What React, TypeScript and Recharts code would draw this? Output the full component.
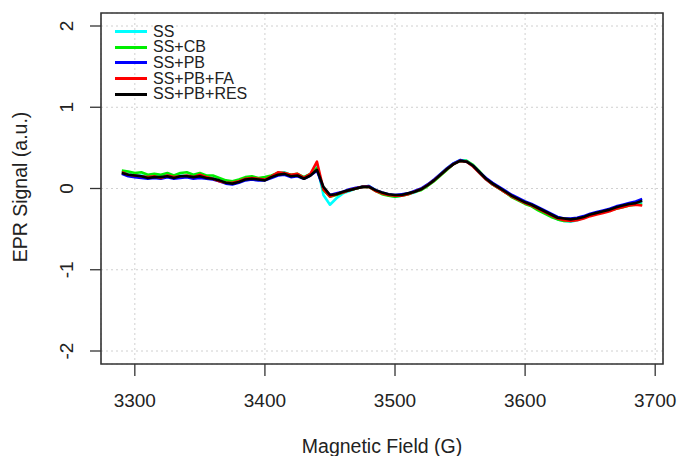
import React from "react";
import {
  LineChart,
  Line,
  XAxis,
  YAxis,
  CartesianGrid,
  ReferenceArea,
} from "recharts";

const FONT = "'Liberation Sans', Arial, Helvetica, sans-serif";
const AXIS = "#333";

// magnetic field sweep (G)
const FIELD = [
  3290, 3295, 3300, 3305, 3310, 3315, 3320, 3325, 3330, 3335,
  3340, 3345, 3350, 3355, 3360, 3365, 3370, 3375, 3380, 3385,
  3390, 3395, 3400, 3405, 3410, 3415, 3420, 3425, 3430, 3435,
  3440, 3445, 3450, 3455, 3460, 3465, 3470, 3475, 3480, 3485,
  3490, 3495, 3500, 3505, 3510, 3515, 3520, 3525, 3530, 3535,
  3540, 3545, 3550, 3555, 3560, 3565, 3570, 3575, 3580, 3585,
  3590, 3595, 3600, 3605, 3610, 3615, 3620, 3625, 3630, 3635,
  3640, 3645, 3650, 3655, 3660, 3665, 3670, 3675, 3680, 3685,
  3690,
];

const SS = [
  0.21, 0.18, 0.17, 0.16, 0.15, 0.15, 0.16, 0.16, 0.14, 0.16,
  0.16, 0.15, 0.15, 0.14, 0.13, 0.1, 0.08, 0.07, 0.09, 0.12,
  0.13, 0.12, 0.11, 0.15, 0.19, 0.2, 0.16, 0.17, 0.14, 0.18,
  0.3, -0.08, -0.2, -0.12, -0.06, -0.03, 0.0, 0.02, 0.03, -0.02,
  -0.06, -0.08, -0.1, -0.09, -0.07, -0.05, -0.01, 0.04, 0.1, 0.18,
  0.25, 0.31, 0.35, 0.34, 0.28, 0.19, 0.11, 0.05, 0.0, -0.05,
  -0.1, -0.14, -0.18, -0.21, -0.26, -0.3, -0.34, -0.38, -0.4, -0.41,
  -0.39, -0.36, -0.33, -0.31, -0.29, -0.27, -0.24, -0.22, -0.2, -0.19,
  -0.17,
];

const SS_CB = [
  0.22, 0.21, 0.19, 0.2, 0.17, 0.18, 0.17, 0.19, 0.16, 0.19,
  0.2, 0.17, 0.19, 0.16, 0.16, 0.13, 0.1, 0.09, 0.11, 0.14,
  0.15, 0.13, 0.14, 0.16, 0.19, 0.19, 0.17, 0.18, 0.14, 0.18,
  0.25, -0.02, -0.1, -0.08, -0.05, -0.02, 0.0, 0.02, 0.02, -0.03,
  -0.07, -0.09, -0.1, -0.09, -0.07, -0.04, -0.02, 0.03, 0.09, 0.16,
  0.23, 0.3, 0.34, 0.34, 0.29, 0.21, 0.12, 0.05, 0.0, -0.05,
  -0.11, -0.15, -0.19, -0.22, -0.27, -0.31, -0.35, -0.38, -0.4, -0.4,
  -0.38, -0.36, -0.33, -0.31, -0.29, -0.27, -0.25, -0.23, -0.21, -0.2,
  -0.2,
];

const SS_PB = [
  0.18, 0.15, 0.14, 0.13, 0.12, 0.13, 0.12, 0.14, 0.12, 0.13,
  0.14, 0.12, 0.13, 0.12, 0.11, 0.09, 0.06, 0.05, 0.07, 0.1,
  0.11, 0.1, 0.1, 0.13, 0.16, 0.17, 0.14, 0.15, 0.12, 0.16,
  0.22, 0.0, -0.08, -0.06, -0.04, -0.01, 0.01, 0.02, 0.03, -0.02,
  -0.05, -0.07, -0.08, -0.07, -0.06, -0.03, 0.0, 0.05, 0.11, 0.18,
  0.25, 0.31, 0.35, 0.33, 0.28, 0.2, 0.13, 0.07, 0.02, -0.03,
  -0.08, -0.12, -0.16, -0.19, -0.23, -0.27, -0.31, -0.35, -0.37, -0.37,
  -0.36, -0.34, -0.31, -0.29, -0.27, -0.25, -0.22, -0.2, -0.18, -0.16,
  -0.13,
];

const SS_PB_FA = [
  0.2, 0.17, 0.16, 0.15, 0.14, 0.15, 0.13, 0.16, 0.14, 0.15,
  0.16, 0.14, 0.17, 0.14, 0.12, 0.09, 0.07, 0.07, 0.09, 0.12,
  0.13, 0.12, 0.11, 0.15, 0.2, 0.19, 0.17, 0.18, 0.13, 0.18,
  0.33, -0.01, -0.1, -0.07, -0.05, -0.02, 0.0, 0.02, 0.02, -0.03,
  -0.06, -0.08, -0.09, -0.09, -0.07, -0.04, -0.01, 0.04, 0.1, 0.17,
  0.24, 0.3, 0.34, 0.33, 0.27, 0.19, 0.11, 0.05, 0.0, -0.05,
  -0.1, -0.14, -0.18, -0.21, -0.25, -0.29, -0.33, -0.37, -0.39, -0.4,
  -0.39, -0.37, -0.34, -0.32, -0.3, -0.28, -0.25, -0.23, -0.21, -0.2,
  -0.21,
];

const SS_PB_RES = [
  0.19, 0.17, 0.16, 0.15, 0.13, 0.14, 0.14, 0.15, 0.13, 0.15,
  0.15, 0.14, 0.15, 0.13, 0.12, 0.1, 0.07, 0.06, 0.08, 0.11,
  0.12, 0.11, 0.1, 0.14, 0.17, 0.18, 0.15, 0.16, 0.12, 0.16,
  0.23, 0.02, -0.08, -0.07, -0.04, -0.02, 0.0, 0.02, 0.02, -0.02,
  -0.05, -0.07, -0.08, -0.08, -0.06, -0.04, -0.01, 0.04, 0.1, 0.17,
  0.24, 0.3, 0.34, 0.33, 0.28, 0.2, 0.12, 0.06, 0.01, -0.04,
  -0.09, -0.13, -0.17, -0.2, -0.24, -0.28, -0.32, -0.36, -0.37, -0.38,
  -0.37, -0.35, -0.32, -0.3, -0.28, -0.26, -0.23, -0.21, -0.19, -0.18,
  -0.15,
];

const X_TICKS = [3300, 3400, 3500, 3600, 3700];
const Y_TICKS = [-2, -1, 0, 1, 2];
const X_DOMAIN = [3274, 3706];
const Y_DOMAIN = [-2.16, 2.16];

const SERIES = [
  { key: "ss", name: "SS", values: SS, color: "#00ffff" },
  { key: "sscb", name: "SS+CB", values: SS_CB, color: "#00ee00" },
  { key: "sspb", name: "SS+PB", values: SS_PB, color: "#0000ff" },
  { key: "sspbfa", name: "SS+PB+FA", values: SS_PB_FA, color: "#ff0000" },
  { key: "sspbres", name: "SS+PB+RES", values: SS_PB_RES, color: "#000000" },
];

const data = FIELD.map((g, i) => {
  const row: Record<string, number> = { field: g };
  SERIES.forEach((s) => {
    row[s.key] = s.values[i];
  });
  return row;
});

// eslint-disable-next-line @typescript-eslint/no-explicit-any
function XTick({ x, y, payload }: any) {
  return (
    <text x={x} y={y} dy={28.5} textAnchor="middle" fontSize={19} fill="#222" fontFamily={FONT}>
      {payload.value}
    </text>
  );
}

// R draws y tick labels turned on their side
// eslint-disable-next-line @typescript-eslint/no-explicit-any
function YTick({ x, y, payload }: any) {
  const bx = x - 15;
  return (
    <text
      x={bx}
      y={y}
      transform={`rotate(-90 ${bx} ${y})`}
      textAnchor="middle"
      fontSize={19}
      fill="#222"
      fontFamily={FONT}
    >
      {payload.value}
    </text>
  );
}

// legend sits inside the plot box, top-left, like R's legend("topleft")
function LegendBox() {
  return (
    <div
      style={{
        position: "absolute",
        top: 23.5,
        left: 115,
        fontFamily: FONT,
        fontSize: 16,
        color: "#222",
        pointerEvents: "none",
      }}
    >
      {SERIES.map((s) => (
        <div
          key={s.key}
          style={{ display: "flex", alignItems: "center", height: 15.7, lineHeight: "15.7px" }}
        >
          <div style={{ width: 32, height: 0, borderTop: `3px solid ${s.color}` }} />
          <span style={{ marginLeft: 6 }}>{s.name}</span>
        </div>
      ))}
    </div>
  );
}

export default function App() {
  return (
    <div style={{ position: "absolute", left: 0, top: 0, width: 679, height: 456, background: "#fff" }}>
      <LineChart
        width={679}
        height={456}
        data={data}
        margin={{ top: 13, right: 16, bottom: 0, left: 0 }}
        style={{ fontFamily: FONT }}
      >
        <CartesianGrid stroke="#d0d0d0" strokeDasharray="2 3" />
        <XAxis
          dataKey="field"
          type="number"
          domain={X_DOMAIN}
          ticks={X_TICKS}
          allowDataOverflow
          height={92}
          axisLine={false}
          tickSize={12}
          tickMargin={2}
          tickLine={{ stroke: AXIS, strokeWidth: 1.3 }}
          tick={<XTick />}
          label={{
            content: () => (
              <text x={382} y={453} textAnchor="middle" fontSize={19.5} fill="#222" fontFamily={FONT}>
                Magnetic Field (G)
              </text>
            ),
          }}
        />
        <YAxis
          type="number"
          domain={Y_DOMAIN}
          ticks={Y_TICKS}
          allowDataOverflow
          width={101}
          axisLine={false}
          tickSize={11}
          tickMargin={2}
          tickLine={{ stroke: AXIS, strokeWidth: 1.3 }}
          tick={<YTick />}
          label={{
            content: () => (
              <text
                x={27}
                y={187}
                transform="rotate(-90 27 187)"
                textAnchor="middle"
                fontSize={19.5}
                fill="#222"
                fontFamily={FONT}
              >
                EPR Signal (a.u.)
              </text>
            ),
          }}
        />
        <ReferenceArea
          x1={X_DOMAIN[0]}
          x2={X_DOMAIN[1]}
          y1={Y_DOMAIN[0]}
          y2={Y_DOMAIN[1]}
          fill="none"
          stroke={AXIS}
          strokeWidth={1.6}
          ifOverflow="visible"
        />
        {SERIES.map((s) => (
          <Line
            key={s.key}
            type="linear"
            dataKey={s.key}
            name={s.name}
            stroke={s.color}
            strokeWidth={2.6}
            strokeLinejoin="round"
            dot={false}
            activeDot={false}
            isAnimationActive={false}
          />
        ))}
      </LineChart>
      <LegendBox />
    </div>
  );
}
